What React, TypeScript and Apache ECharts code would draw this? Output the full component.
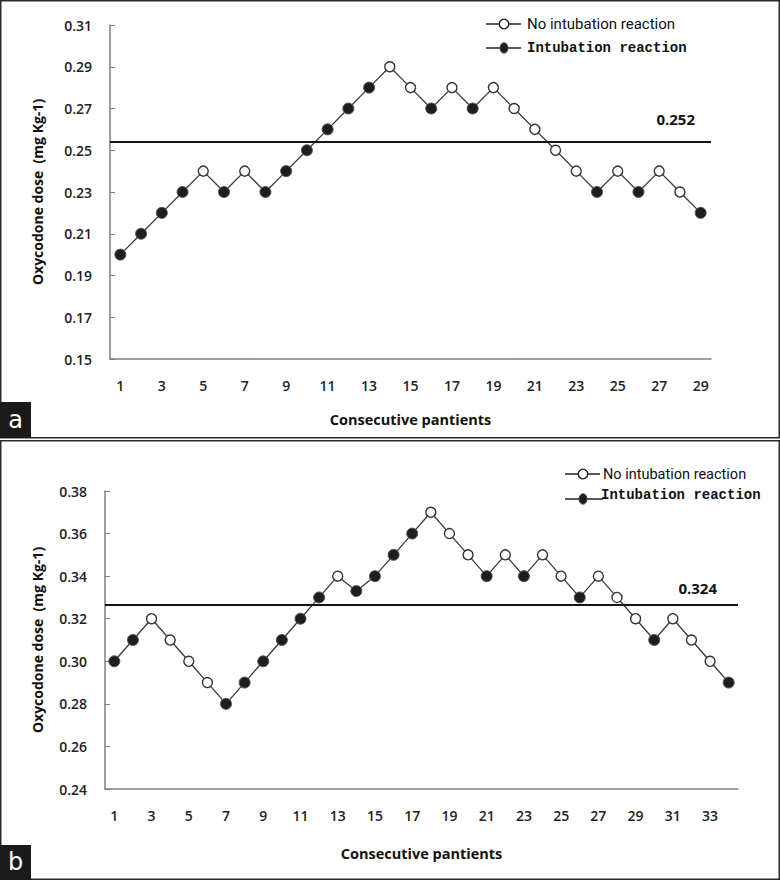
import React, { useEffect, useRef } from "react";
import * as echarts from "echarts";

// ---------- data (panel a) ----------
const patientsA = ["1","2","3","4","5","6","7","8","9","10","11","12","13","14","15","16","17","18","19","20","21","22","23","24","25","26","27","28","29"];
const dosesA = [0.20,0.21,0.22,0.23,0.24,0.23,0.24,0.23,0.24,0.25,0.26,0.27,0.28,0.29,0.28,0.27,0.28,0.27,0.28,0.27,0.26,0.25,0.24,0.23,0.24,0.23,0.24,0.23,0.22];
// 1 = intubation reaction, 0 = no intubation reaction
const reactionA = [1,1,1,1,0,1,0,1,1,1,1,1,1,0,0,1,0,1,0,0,0,0,0,1,0,1,0,0,1];
const refLineA = 0.254;
const refLabelA = "0.252";

// ---------- data (panel b) ----------
const patientsB = ["1","2","3","4","5","6","7","8","9","10","11","12","13","14","15","16","17","18","19","20","21","22","23","24","25","26","27","28","29","30","31","32","33","34"];
const dosesB = [0.30,0.31,0.32,0.31,0.30,0.29,0.28,0.29,0.30,0.31,0.32,0.33,0.34,0.333,0.34,0.35,0.36,0.37,0.36,0.35,0.34,0.35,0.34,0.35,0.34,0.33,0.34,0.33,0.32,0.31,0.32,0.31,0.30,0.29];
const reactionB = [1,1,0,0,0,0,1,1,1,1,1,1,0,1,1,1,1,0,0,0,1,0,1,0,0,1,0,0,0,1,0,0,0,1];
const refLineB = 0.3265;
const refLabelB = "0.324";

const yRangeA = [0.15, 0.31];
const yRangeB = [0.24, 0.38];
const yStep = 0.02;

const legendNames = ["No intubation reaction", "Intubation reaction"];
const xTitle = "Consecutive pantients";
const yTitle = "Oxycodone dose  (mg Kg-1)";

const labelFont = "'Open Sans', 'DejaVu Sans', sans-serif";
const AXIS_GRAY = "#7f7f7f";
const LINE_COLOR = "#3a3a3a";

const openStyle = { color: "#ffffff", borderColor: "#333333", borderWidth: 1.4 };
const filledStyle = { color: "#1e1e1e", borderColor: "#555555", borderWidth: 1 };

function makePoints(values: number[], reaction: number[]) {
  return values.map((v, i) => ({
    value: v,
    symbol: "circle",
    symbolSize: reaction[i] ? 11 : 10,
    itemStyle: reaction[i] ? filledStyle : openStyle,
  }));
}

function xAxisFor(gridIndex: number, data: string[], nameGap: number) {
  return {
    type: "category",
    gridIndex,
    data,
    boundaryGap: true,
    axisLine: { lineStyle: { color: AXIS_GRAY, width: 1.5 } },
    axisTick: { alignWithLabel: true, interval: 0, inside: true, length: 4, lineStyle: { color: AXIS_GRAY } },
    axisLabel: { interval: 1, margin: 19, fontSize: 14, fontFamily: labelFont, fontWeight: 600, color: "#222" },
    splitLine: { show: false },
    name: xTitle,
    nameLocation: "middle",
    nameGap,
    nameTextStyle: { fontSize: 14.5, fontFamily: labelFont, fontWeight: "bold", color: "#111" },
  };
}

function yAxisFor(gridIndex: number, range: number[], nameGap: number) {
  return {
    type: "value",
    gridIndex,
    min: range[0],
    max: range[1],
    interval: yStep,
    axisLine: { show: true, lineStyle: { color: AXIS_GRAY, width: 1.5 } },
    axisTick: { show: true, inside: true, length: 5, lineStyle: { color: AXIS_GRAY } },
    axisLabel: {
      margin: 18,
      fontSize: 14,
      fontFamily: labelFont,
      fontWeight: 600,
      color: "#222",
      formatter: (v: number) => v.toFixed(2),
    },
    splitLine: { show: false },
    name: yTitle,
    nameLocation: "middle",
    nameGap,
    nameRotate: 90,
    nameTextStyle: { fontSize: 14, fontFamily: labelFont, fontWeight: "bold", color: "#111" },
  };
}

function seriesFor(idx: number, values: number[], reaction: number[], ref: number, refLabel: string, offset: number[]) {
  return {
    type: "line",
    xAxisIndex: idx,
    yAxisIndex: idx,
    data: makePoints(values, reaction),
    lineStyle: { color: LINE_COLOR, width: 1.3 },
    z: 3,
    markLine: {
      silent: true,
      symbol: "none",
      precision: 4,
      lineStyle: { color: "#151515", width: 2, type: "solid" },
      label: {
        show: true,
        position: "insideEndTop",
        formatter: () => refLabel,
        fontSize: 15,
        fontFamily: labelFont,
        fontWeight: "bold",
        color: "#111",
        offset,
      },
      emphasis: { disabled: true },
      data: [{ yAxis: ref }],
    },
  };
}

function legendGraphic(x0: number, y1: number, y2: number, lineEnd2: number, text1X: number, text2X: number, text2Y: number, size1: number) {
  const mx = x0 + 18;
  return [
    { type: "line", shape: { x1: x0, y1, x2: x0 + 35, y2: y1 }, style: { stroke: "#222", lineWidth: 1.5 }, z: 10 },
    { type: "circle", shape: { cx: mx, cy: y1, r: 4.8 }, style: { fill: "#fff", stroke: "#222", lineWidth: 1.4 }, z: 11 },
    { type: "text", x: text1X, y: y1, style: { text: legendNames[0], fontSize: size1, fontFamily: "Roboto, 'Open Sans', sans-serif", fill: "#111", verticalAlign: "middle" }, z: 10 },
    { type: "line", shape: { x1: x0, y1: y2, x2: lineEnd2, y2 }, style: { stroke: "#222", lineWidth: 1.5 }, z: 10 },
    { type: "ellipse", shape: { cx: mx, cy: y2, rx: 4, ry: 5.2 }, style: { fill: "#1e1e1e", stroke: "#444", lineWidth: 1 }, z: 11 },
    { type: "text", x: text2X, y: text2Y, style: { text: legendNames[1], fontSize: 14, fontFamily: "'Liberation Mono', 'DejaVu Sans Mono', monospace", fontWeight: "bold", fill: "#111", verticalAlign: "middle" }, z: 10 },
  ];
}

export default function App() {
  const ref = useRef<HTMLDivElement>(null);
  useEffect(() => {
    if (!ref.current) return;
    const chart = echarts.init(ref.current, null, { renderer: "svg" });
    const option = {
      animation: false,
      backgroundColor: "#ffffff",
      grid: [
        { left: 110, top: 25, width: 601, height: 334 },
        { left: 105, top: 491, width: 633, height: 298 },
      ],
      xAxis: [xAxisFor(0, patientsA, 53), xAxisFor(1, patientsB, 57)],
      yAxis: [yAxisFor(0, yRangeA, 66), yAxisFor(1, yRangeB, 61)],
      series: [
        seriesFor(0, dosesA, reactionA, refLineA, refLabelA, [-11, -10]),
        seriesFor(1, dosesB, reactionB, refLineB, refLabelB, [-16, -4]),
      ],
      graphic: [
        { type: "rect", shape: { x: 0.75, y: 0.75, width: 778.5, height: 437 }, style: { fill: "none", stroke: "#2a2a2a", lineWidth: 1.5 }, z: 20 },
        { type: "rect", shape: { x: 0.75, y: 440.75, width: 778.5, height: 438.5 }, style: { fill: "none", stroke: "#2a2a2a", lineWidth: 1.5 }, z: 20 },
        { type: "rect", shape: { x: 0, y: 402, width: 31, height: 36 }, style: { fill: "#1a1a1a" }, z: 21 },
        { type: "text", x: 15.5, y: 420, style: { text: "a", fontSize: 24, fontFamily: "'DejaVu Sans', sans-serif", fill: "#fff", align: "center", verticalAlign: "middle" }, z: 22 },
        { type: "rect", shape: { x: 0, y: 845, width: 31, height: 35 }, style: { fill: "#1a1a1a" }, z: 21 },
        { type: "text", x: 15.5, y: 862, style: { text: "b", fontSize: 24, fontFamily: "'DejaVu Sans', sans-serif", fill: "#fff", align: "center", verticalAlign: "middle" }, z: 22 },
        ...legendGraphic(486, 24, 48, 521, 527, 527, 48, 15),
        ...legendGraphic(565, 474, 499, 603, 603, 601, 495, 14.5),
      ],
    };
    chart.setOption(option as any);
    return () => chart.dispose();
  }, []);
  return <div ref={ref} style={{ position: "fixed", left: 0, top: 0, width: 780, height: 880 }} />;
}
